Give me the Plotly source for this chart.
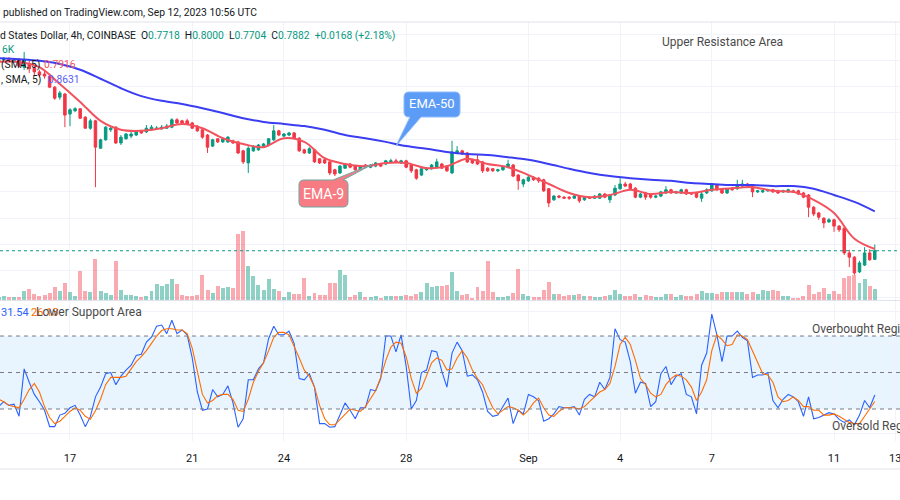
import pandas as pd
import plotly.graph_objects as go

# 4h candles, Aug 14 16:00 -> Sep 12 08:00 (UTC)
times = pd.date_range("2023-08-14 16:00", periods=173, freq="4h")

open_ = [1.149, 1.151, 1.152, 1.149, 1.151, 1.137, 1.143, 1.135, 1.128, 1.124, 1.120, 1.099, 1.080, 1.086,
         1.048, 1.054, 1.058, 1.042, 1.021, 1.035, 0.983, 0.999, 1.018, 1.023,
         0.993, 1.001, 1.006, 1.008, 1.016, 1.014, 1.018, 1.020, 1.020, 1.021,
         1.023, 1.037, 1.035, 1.035, 1.031, 1.025, 1.018, 1.008, 0.987, 1.001,
         0.995, 0.995, 0.997, 0.995, 0.978, 0.955, 0.978, 0.980, 0.987, 0.989,
         0.999, 1.016, 1.006, 1.008, 1.012, 1.002, 0.980, 0.974, 0.980, 0.963,
         0.961, 0.957, 0.942, 0.936, 0.945, 0.953, 0.949, 0.942, 0.951, 0.947,
         0.949, 0.953, 0.953, 0.957, 0.959, 0.955, 0.959, 0.951, 0.942, 0.932,
         0.942, 0.944, 0.947, 0.953, 0.949, 0.936, 0.974, 0.978, 0.974, 0.961,
         0.961, 0.957, 0.945, 0.944, 0.940, 0.942, 0.947, 0.951, 0.932, 0.915,
         0.921, 0.928, 0.926, 0.923, 0.906, 0.885, 0.892, 0.890, 0.890, 0.888,
         0.892, 0.885, 0.890, 0.888, 0.888, 0.896, 0.885, 0.894, 0.906, 0.915,
         0.915, 0.907, 0.890, 0.898, 0.896, 0.890, 0.892, 0.898, 0.904, 0.898,
         0.898, 0.904, 0.898, 0.898, 0.888, 0.898, 0.902, 0.913, 0.906, 0.898,
         0.907, 0.906, 0.911, 0.915, 0.913, 0.900, 0.900, 0.902, 0.904, 0.902,
         0.900, 0.900, 0.902, 0.902, 0.898, 0.894, 0.871, 0.860, 0.850, 0.843,
         0.847, 0.835, 0.831, 0.784, 0.776, 0.748, 0.761, 0.784, 0.7718]

close = [1.151, 1.152, 1.149, 1.151, 1.139, 1.152, 1.134, 1.128, 1.122, 1.120, 1.099, 1.078, 1.088, 1.046,
         1.056, 1.058, 1.040, 1.021, 1.035, 0.985, 0.999, 1.023, 1.021, 0.993,
         1.004, 1.010, 1.010, 1.014, 1.012, 1.021, 1.023, 1.021, 1.023, 1.025,
         1.037, 1.031, 1.031, 1.029, 1.021, 1.016, 1.004, 0.985, 0.999, 0.995,
         1.001, 1.004, 0.993, 0.974, 0.957, 0.983, 0.985, 0.989, 0.991, 1.001,
         1.016, 1.008, 1.010, 1.012, 1.002, 0.978, 0.974, 0.982, 0.957, 0.955,
         0.955, 0.936, 0.934, 0.949, 0.953, 0.947, 0.942, 0.949, 0.947, 0.951,
         0.955, 0.949, 0.959, 0.959, 0.957, 0.959, 0.947, 0.940, 0.926, 0.944,
         0.945, 0.951, 0.957, 0.945, 0.940, 0.976, 0.978, 0.972, 0.957, 0.955,
         0.953, 0.940, 0.940, 0.940, 0.942, 0.947, 0.953, 0.930, 0.921, 0.923,
         0.928, 0.923, 0.921, 0.902, 0.879, 0.892, 0.890, 0.888, 0.888, 0.892,
         0.883, 0.890, 0.888, 0.892, 0.896, 0.890, 0.894, 0.907, 0.915, 0.911,
         0.906, 0.890, 0.896, 0.890, 0.890, 0.892, 0.900, 0.904, 0.898, 0.900,
         0.904, 0.896, 0.896, 0.890, 0.896, 0.904, 0.913, 0.904, 0.898, 0.906,
         0.904, 0.913, 0.915, 0.911, 0.900, 0.902, 0.902, 0.904, 0.900, 0.898,
         0.902, 0.904, 0.900, 0.896, 0.890, 0.871, 0.858, 0.852, 0.841, 0.847,
         0.835, 0.828, 0.784, 0.776, 0.746, 0.765, 0.784, 0.771, 0.7882]

high = [1.154, 1.156, 1.156, 1.154, 1.154, 1.166, 1.151, 1.139, 1.132, 1.130, 1.124, 1.101, 1.092, 1.088,
        1.059, 1.061, 1.059, 1.044, 1.039, 1.037, 1.001, 1.025, 1.025, 1.025,
        1.008, 1.012, 1.014, 1.016, 1.018, 1.027, 1.027, 1.025, 1.027, 1.029,
        1.040, 1.040, 1.037, 1.039, 1.033, 1.027, 1.020, 1.010, 1.001, 1.002,
        1.004, 1.006, 0.999, 0.997, 0.980, 0.987, 0.989, 0.991, 0.993, 1.002,
        1.027, 1.018, 1.012, 1.014, 1.014, 1.004, 0.982, 0.985, 0.982, 0.964,
        0.963, 0.959, 0.944, 0.951, 0.955, 0.955, 0.951, 0.951, 0.953, 0.953,
        0.957, 0.955, 0.961, 0.963, 0.963, 0.961, 0.961, 0.953, 0.944, 0.945,
        0.947, 0.953, 0.963, 0.955, 0.951, 0.997, 0.987, 0.980, 0.976, 0.963,
        0.970, 0.959, 0.947, 0.945, 0.944, 0.949, 0.961, 0.953, 0.934, 0.925,
        0.930, 0.930, 0.928, 0.925, 0.907, 0.894, 0.894, 0.892, 0.892, 0.894,
        0.894, 0.892, 0.892, 0.894, 0.898, 0.898, 0.896, 0.913, 0.926, 0.919,
        0.917, 0.909, 0.898, 0.900, 0.898, 0.894, 0.902, 0.911, 0.906, 0.902,
        0.906, 0.906, 0.900, 0.900, 0.900, 0.907, 0.915, 0.915, 0.907, 0.907,
        0.909, 0.923, 0.923, 0.917, 0.915, 0.904, 0.904, 0.906, 0.906, 0.904,
        0.904, 0.906, 0.904, 0.904, 0.900, 0.896, 0.873, 0.862, 0.852, 0.850,
        0.849, 0.837, 0.833, 0.790, 0.778, 0.769, 0.795, 0.791, 0.8000]

low = [1.145, 1.147, 1.147, 1.147, 1.137, 1.132, 1.126, 1.120, 1.118, 1.115, 1.097, 1.075, 1.075, 1.023,
       1.025, 1.052, 1.039, 1.020, 1.018, 0.909, 0.982, 0.997, 1.014, 0.991,
       0.989, 0.999, 1.002, 1.006, 1.010, 1.012, 1.016, 1.018, 1.018, 1.020,
       1.021, 1.029, 1.029, 1.027, 1.020, 1.014, 1.001, 0.974, 0.985, 0.993,
       0.993, 0.993, 0.991, 0.972, 0.953, 0.936, 0.976, 0.978, 0.985, 0.987,
       0.997, 1.006, 1.004, 1.006, 1.001, 0.976, 0.972, 0.972, 0.955, 0.953,
       0.953, 0.932, 0.930, 0.934, 0.944, 0.945, 0.940, 0.940, 0.945, 0.945,
       0.947, 0.947, 0.951, 0.955, 0.955, 0.953, 0.945, 0.936, 0.923, 0.930,
       0.940, 0.942, 0.945, 0.944, 0.938, 0.934, 0.972, 0.970, 0.955, 0.953,
       0.951, 0.936, 0.938, 0.938, 0.938, 0.940, 0.945, 0.928, 0.904, 0.909,
       0.919, 0.921, 0.917, 0.900, 0.871, 0.883, 0.888, 0.887, 0.885, 0.887,
       0.879, 0.883, 0.887, 0.887, 0.887, 0.888, 0.879, 0.892, 0.904, 0.909,
       0.904, 0.888, 0.888, 0.885, 0.887, 0.888, 0.890, 0.896, 0.896, 0.896,
       0.896, 0.894, 0.894, 0.888, 0.881, 0.896, 0.900, 0.902, 0.896, 0.896,
       0.902, 0.904, 0.909, 0.909, 0.890, 0.898, 0.898, 0.900, 0.898, 0.896,
       0.898, 0.898, 0.898, 0.894, 0.888, 0.852, 0.854, 0.847, 0.831, 0.841,
       0.824, 0.824, 0.780, 0.757, 0.742, 0.746, 0.759, 0.769, 0.7704]

# volume, thousands
volume = [0.30, 0.37, 0.27, 0.27, 0.27, 0.90, 1.07, 0.57, 0.40, 0.47, 0.63, 1.23, 0.90, 1.67,
          0.73, 0.40, 2.83, 0.90, 0.73, 4.07, 0.83, 0.63, 0.50, 3.83,
          0.97, 0.47, 0.47, 0.37, 0.30, 0.37, 0.83, 1.57, 1.40, 1.57,
          2.07, 1.57, 0.47, 0.37, 0.37, 0.47, 2.50, 0.97, 0.70, 1.40,
          1.13, 1.23, 1.13, 6.57, 6.90, 3.33, 2.40, 1.50, 0.97, 2.07,
          1.07, 0.90, 0.30, 0.80, 0.57, 0.57, 2.17, 0.37, 0.63, 0.47,
          0.47, 1.67, 1.67, 3.00, 2.50, 0.30, 0.50, 0.73, 0.30, 0.27,
          0.37, 0.20, 0.37, 0.37, 0.37, 0.37, 0.47, 0.37, 0.53, 0.73,
          1.70, 1.30, 1.40, 1.33, 1.47, 2.73, 0.83, 0.50, 0.60, 0.17,
          1.30, 0.87, 3.83, 0.80, 0.27, 0.27, 0.33, 0.70, 3.07, 0.53,
          0.37, 0.27, 0.27, 0.97, 1.80, 0.53, 0.60, 0.40, 0.47, 0.43,
          0.53, 0.37, 0.37, 0.27, 0.30, 0.37, 0.43, 0.97, 0.60, 0.37,
          0.37, 0.60, 0.27, 0.43, 0.37, 0.27, 0.27, 0.60, 0.60, 0.27,
          0.43, 0.37, 0.37, 0.60, 0.87, 0.67, 0.70, 0.57, 0.80, 0.77,
          0.77, 0.80, 0.80, 0.60, 0.80, 0.60, 0.97, 0.83, 0.97, 0.87,
          0.40, 0.40, 0.20, 0.20, 0.37, 1.50, 0.53, 0.80, 1.20, 0.53,
          0.87, 0.60, 2.13, 2.40, 2.47, 1.67, 2.07, 1.37, 1.06]

# moving averages, read every 4th bar
ema9 = [1.147, 1.147, 1.137, 1.105, 1.071, 1.035, 1.018, 1.016, 1.021, 1.029, 1.021,
        1.002, 0.991, 0.985, 1.002, 0.995, 0.964, 0.953, 0.949, 0.955, 0.955, 0.945,
        0.949, 0.963, 0.953, 0.947, 0.932, 0.915, 0.898, 0.890, 0.894, 0.904, 0.896,
        0.900, 0.898, 0.904, 0.907, 0.909, 0.902, 0.900, 0.885, 0.860, 0.811, 0.7916]
ema50 = [1.154, 1.152, 1.149, 1.143, 1.132, 1.115, 1.097, 1.082, 1.073, 1.067, 1.059,
         1.050, 1.040, 1.033, 1.029, 1.025, 1.018, 1.008, 1.002, 0.995, 0.987, 0.982,
         0.976, 0.972, 0.970, 0.966, 0.961, 0.953, 0.944, 0.936, 0.930, 0.926, 0.923,
         0.921, 0.917, 0.915, 0.913, 0.913, 0.911, 0.911, 0.906, 0.894, 0.881, 0.8631]

# stochastic RSI
stoch_k = [22, 26, 23, 24, 14, 53, 42, 32, 26, 19, 5.5, 5.5, 15, 16.4,
           21, 23, 15, 5.5, 13.7, 30, 38, 49, 50, 40,
           47, 52, 56, 64, 65, 75, 79, 88, 89, 82,
           93, 82, 85, 81, 62, 34, 19, 20, 36, 30,
           32, 39, 25, 5, 12, 44, 44, 53, 58, 78,
           88, 81, 81, 84, 74, 45, 44, 49, 38, 8,
           8, 5, 5.5, 15, 25, 19, 12, 21, 21, 36,
           35, 45, 80, 80, 67, 81, 55, 20, 27, 50,
           52, 68, 67, 51, 38, 66, 75, 68, 47, 48,
           44, 34, 18, 14, 15, 22, 29, 8, 19, 16,
           32, 30, 27, 10, 12, 16, 22, 21, 21, 22,
           15, 28, 32, 30, 42, 36, 46, 86, 77, 75,
           59, 33, 42, 41, 22, 26, 49, 55, 40, 47,
           49, 32, 30, 16, 56, 66, 98, 81, 59, 80,
           80, 84, 79, 76, 46, 48, 48, 50, 27, 21,
           28, 32, 30, 26, 14, 30, 12, 13, 15, 17,
           16, 11.5, 9, 11, 7, 15, 27, 21, 31.54]
stoch_d = [28, 26, 23, 22, 21, 28, 36, 41, 34, 22, 13, 8, 10, 14,
           18, 21, 19, 14, 11.5, 18.5, 28, 40, 46, 46,
           46, 47, 53, 59, 63, 68, 74, 80, 84.5, 86,
           86, 85, 85, 82, 70, 50, 32, 25, 27, 31,
           32, 32, 28, 19, 18, 28, 42, 51, 58, 68,
           79, 83, 83, 81, 72, 62, 52, 47, 38, 23,
           12, 7, 7, 11.5, 16, 20, 19, 18, 22, 29,
           35, 46, 60, 71, 75, 74, 63, 45, 33, 37,
           47, 58, 62, 60, 52, 53, 62, 68, 62, 52,
           45, 40, 30, 21, 16, 19, 22, 21, 19, 15,
           19, 25, 29, 21, 15, 14, 18, 21, 21, 21,
           20, 22, 26, 30, 34, 36, 41, 55, 73, 79,
           73, 60, 45, 40, 33, 30, 32, 40, 45, 48,
           47, 44, 38, 27, 34, 44, 68, 81, 77, 72,
           73, 81, 80, 77, 68, 58, 49, 48, 42, 30,
           26, 27, 30, 27, 22, 22, 19, 19, 15, 15,
           16, 14, 11.5, 9, 8, 8, 14, 20, 26.13]

tick_dates = ["2023-08-17", "2023-08-21", "2023-08-24", "2023-08-28", "2023-09-01",
              "2023-09-04", "2023-09-07", "2023-09-11", "2023-09-13"]
tick_text = ["17", "21", "24", "28", "Sep", "4", "7", "11", "13"]

UP = "#089981"
DOWN = "#F23645"
FONT = "Roboto"
W, H = 900, 500


def P(x, y):
    return f"{x / W:.5f},{1 - y / H:.5f}"


def px(x):
    return x / W


def py(y):
    return 1 - y / H


x_range = ["2023-08-14 17:02", "2023-09-13 03:48"]
ema_times = times[::4]
vol_colors = ["rgba(8,153,129,0.45)" if c >= o else "rgba(242,54,69,0.42)"
              for o, c in zip(open_, close)]

fig = go.Figure()

fig.add_trace(go.Bar(x=times, y=volume, marker_color=vol_colors, marker_line_width=0,
                     width=4 * 3600 * 1000 * 0.78, xaxis="x", yaxis="y"))
fig.add_trace(go.Candlestick(
    x=times, open=open_, high=high, low=low, close=close,
    increasing=dict(line=dict(color=UP, width=1), fillcolor=UP),
    decreasing=dict(line=dict(color=DOWN, width=1), fillcolor=DOWN),
    whiskerwidth=0, xaxis="x", yaxis="y2"))
fig.add_trace(go.Scatter(x=ema_times, y=ema50, mode="lines", line=dict(color="#3A3DF2", width=2, shape="spline"),
                         xaxis="x", yaxis="y2"))
fig.add_trace(go.Scatter(x=ema_times, y=ema9, mode="lines", line=dict(color="#F2525E", width=2, shape="spline"),
                         xaxis="x", yaxis="y2"))

fig.add_trace(go.Scatter(x=times, y=stoch_k, mode="lines", line=dict(color="#2962FF", width=1.1),
                         xaxis="x2", yaxis="y3"))
fig.add_trace(go.Scatter(x=times, y=stoch_d, mode="lines", line=dict(color="#FF6D00", width=1.1),
                         xaxis="x2", yaxis="y3"))

grid = "#F0F3FA"
fig.update_layout(
    width=W, height=H, margin=dict(l=0, r=0, t=0, b=0, autoexpand=False),
    paper_bgcolor="white", plot_bgcolor="white", showlegend=False, hovermode=False,
    font=dict(family=FONT, color="#131722"),
    xaxis=dict(domain=[0, 1], anchor="y", range=x_range, tickvals=tick_dates, showticklabels=False,
               showgrid=True, gridcolor=grid, zeroline=False, rangeslider=dict(visible=False),
               automargin=False),
    xaxis2=dict(domain=[0, 1], anchor="y3", range=x_range, matches="x", tickvals=tick_dates,
                ticktext=tick_text, showgrid=True, gridcolor=grid, zeroline=False, ticks="",
                tickfont=dict(size=11, color="#131722"), ticklabelstandoff=9, automargin=False,
                ticklabeloverflow="allow"),
    yaxis=dict(domain=[py(300), py(22)], range=[-0.05, 27.75], showgrid=False,
               showticklabels=False, zeroline=False, automargin=False),
    yaxis2=dict(overlaying="y", range=[0.6946, 1.2228], showticklabels=False, showgrid=True,
                gridcolor=grid, tick0=0, dtick=0.05, zeroline=False, automargin=False),
    yaxis3=dict(domain=[py(441), py(301)], range=[-6.3, 108.8], showticklabels=False,
                showgrid=True, gridcolor=grid, tick0=0, dtick=25, zeroline=False, automargin=False),
    bargap=0,
)

shapes = [
    # header and pane borders
    dict(type="line", xref="paper", yref="paper", x0=0, x1=1, y0=py(22), y1=py(22),
         line=dict(color="#E0E3EB", width=1)),
    dict(type="line", xref="paper", yref="paper", x0=0, x1=1, y0=py(300.5), y1=py(300.5),
         line=dict(color="#E0E3EB", width=1)),
    dict(type="line", xref="paper", yref="paper", x0=0, x1=1, y0=py(469), y1=py(469),
         line=dict(color="#E0E3EB", width=1)),
    # last price
    dict(type="line", xref="paper", yref="y2", x0=0, x1=1, y0=close[-1], y1=close[-1],
         line=dict(color=UP, width=1, dash="dot")),
    # stoch band
    dict(type="rect", xref="paper", yref="y3", x0=0, x1=1, y0=20, y1=80, layer="below",
         fillcolor="rgba(33,150,243,0.10)", line=dict(width=0)),
]
for lvl in (80, 50, 20):
    shapes.append(dict(type="line", xref="paper", yref="y3", x0=0, x1=1, y0=lvl, y1=lvl,
                       line=dict(color="#787B86", width=1, dash="4px,4px")))

# callouts
ema50_path = ("M " + P(409, 92) + " L " + P(455, 92) + " Q " + P(460, 92) + " " + P(460, 97) +
              " L " + P(460, 112) + " Q " + P(460, 117) + " " + P(455, 117) + " L " + P(421, 117) +
              " L " + P(396, 146) + " L " + P(410, 117) + " L " + P(409, 117) + " Q " + P(404, 117) +
              " " + P(404, 112) + " L " + P(404, 97) + " Q " + P(404, 92) + " " + P(409, 92) + " Z")
ema9_path = ("M " + P(304, 180) + " L " + P(333, 180) + " L " + P(373, 164) + " L " + P(343, 180) +
             " Q " + P(348, 180) + " " + P(348, 185) + " L " + P(348, 202) + " Q " + P(348, 207) + " " +
             P(343, 207) + " L " + P(304, 207) + " Q " + P(299, 207) + " " + P(299, 202) + " L " +
             P(299, 185) + " Q " + P(299, 180) + " " + P(304, 180) + " Z")
shapes.append(dict(type="path", xref="paper", yref="paper", path=ema50_path,
                   fillcolor="#5C9CF7", line=dict(color="#8DBAF9", width=1)))
shapes.append(dict(type="path", xref="paper", yref="paper", path=ema9_path,
                   fillcolor="#F77B82", line=dict(color="#6FA8A5", width=1)))
fig.update_layout(shapes=shapes)


def note(text, x, y, size=10.3, color="#131722", anchor="left"):
    return dict(text=text, x=px(x), y=py(y), xref="paper", yref="paper", showarrow=False,
                xanchor=anchor, yanchor="middle", font=dict(size=size, color=color, family=FONT))


teal = UP
hdr = ("d States Dollar, 4h, COINBASE&nbsp;&nbsp;"
       f"O<span style='color:{teal}'>0.7718</span>&nbsp;&nbsp;"
       f"H<span style='color:{teal}'>0.8000</span>&nbsp;&nbsp;"
       f"L<span style='color:{teal}'>0.7704</span>&nbsp;&nbsp;"
       f"C<span style='color:{teal}'>0.7882</span>&nbsp;&nbsp;"
       f"<span style='color:{teal}'>+0.0168 (+2.18%)</span>")
annotations = [
    note("published on TradingView.com, Sep 12, 2023 10:56 UTC", 1, 12),
    note(hdr, -2, 35),
    note("6K", 0, 50, color=teal),
    note("(SMA, 5)", -1, 64),
    note("0.7916", 42, 64, color="#F2525E"),
    note(", SMA, 5)", -1, 79),
    note("0.8631", 46, 79, color="#5A5CF2"),
    note("Upper Resistance Area", 722, 42, size=12, color="#4A4A4A", anchor="center"),
    note("EMA-50", 432, 104, size=13, color="white", anchor="center"),
    note("EMA-9", 323.5, 194, size=14, color="white", anchor="center"),
    note("31.54", -1, 312, size=11, color="#2962FF"),
    note("26.13", 29, 312, size=11, color="#FF6D00"),
    note("Lower Support Area", 34, 312, size=12, color="#4A4A4A"),
    note("Overbought Region", 810, 329, size=12, color="#4A4A4A"),
    note("Oversold Region", 830, 426, size=12, color="#4A4A4A"),
]
fig.update_layout(annotations=annotations)

# drop the page's default body margin so the figure sits at the window origin
fig.write_html("out.html", config={"displayModeBar": False},
               post_script="document.body.style.margin='0';")
